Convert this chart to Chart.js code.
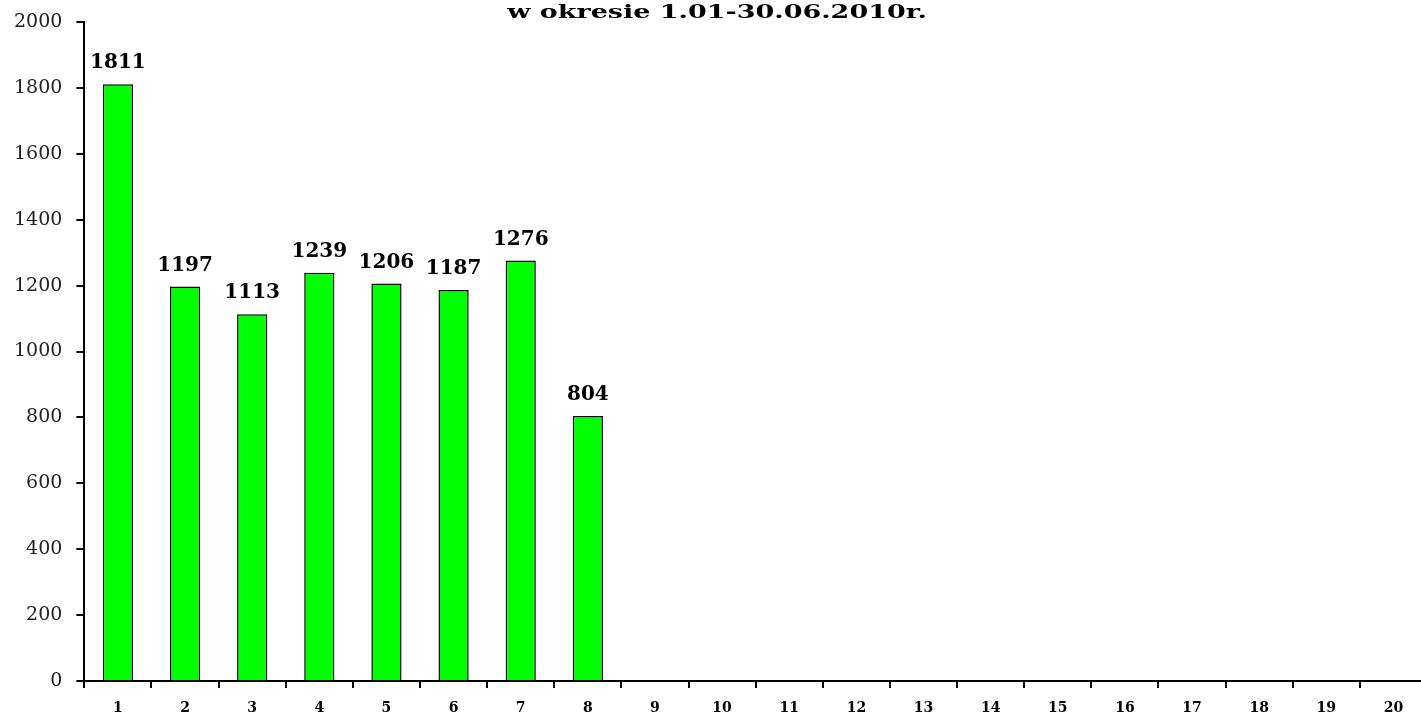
<!DOCTYPE html>
<html lang="pl">
<head>
	<meta charset="utf-8">
	<title>w okresie 1.01-30.06.2010r.</title>
	<script src="https://cdn.jsdelivr.net/npm/chart.js"></script>
	<style>
		html, body { margin: 0; padding: 0; background: #fff; overflow: hidden; }
	</style>
</head>
<body>
	<canvas id="chart" width="1428" height="716"></canvas>
	<script>
		// kolejne przedziały 1..20
		const categories = ['1','2','3','4','5','6','7','8','9','10','11','12','13','14','15','16','17','18','19','20'];
		// liczby z wykresu; puste kategorie bez słupka
		const values = [1811, 1197, 1113, 1239, 1206, 1187, 1276, 804, null, null, null, null, null, null, null, null, null, null, null, null];
		const yTicks = [0, 200, 400, 600, 800, 1000, 1200, 1400, 1600, 1800, 2000];
		const titleText = 'w okresie 1.01-30.06.2010r.';

		const serif = "'DejaVu Serif', 'Liberation Serif', serif";

		// tytuł u góry (szeroki krój jak w oryginale)
		const wideTitle = {
			id: 'wideTitle',
			afterDraw(chart) {
				const ctx = chart.ctx;
				ctx.save();
				ctx.font = 'bold 19px ' + serif;
				ctx.fillStyle = '#000';
				ctx.textAlign = 'center';
				ctx.textBaseline = 'alphabetic';
				ctx.translate(717, 18);
				ctx.scale(1.42, 1);
				ctx.fillText(titleText, 0, 0);
				ctx.restore();
			}
		};

		// wartości nad słupkami
		const valueLabels = {
			id: 'valueLabels',
			afterDatasetsDraw(chart) {
				const ctx = chart.ctx;
				const meta = chart.getDatasetMeta(0);
				ctx.save();
				ctx.font = 'bold 20px ' + serif;
				ctx.fillStyle = '#000';
				ctx.textAlign = 'center';
				ctx.textBaseline = 'alphabetic';
				meta.data.forEach((bar, i) => {
					const v = values[i];
					if (v === null) return;
					ctx.fillText(String(v), bar.x, bar.y - 16);
				});
				ctx.restore();
			}
		};

		new Chart(document.getElementById('chart'), {
			type: 'bar',
			data: {
				labels: categories,
				datasets: [{
					data: values,
					backgroundColor: '#00ff00',
					borderColor: '#000',
					borderWidth: 1.5,
					barPercentage: 0.45,
					categoryPercentage: 1
				}]
			},
			options: {
				responsive: false,
				animation: false,
				devicePixelRatio: 1,
				layout: { padding: { left: 0, right: 1, top: 22, bottom: -12 } },
				plugins: {
					legend: { display: false },
					tooltip: { enabled: false },
					title: { display: false }
				},
				scales: {
					x: {
						grid: { drawOnChartArea: false, color: '#000', lineWidth: 2, tickLength: 7, offset: true },
						border: { color: '#000', width: 2 },
						ticks: {
							color: '#000',
							padding: 13,
							font: { family: serif, size: 14, weight: 'bold', lineHeight: 1 },
							maxRotation: 0,
							autoSkip: false
						}
					},
					y: {
						min: 0,
						max: 2000,
						afterBuildTicks(scale) {
							scale.ticks = yTicks.map(v => ({ value: v }));
						},
						grid: { drawOnChartArea: false, color: '#000', lineWidth: 2, tickLength: 8 },
						border: { color: '#000', width: 2 },
						ticks: {
							color: '#222',
							padding: 14,
							font: { family: serif, size: 19, lineHeight: 0.8 },
							callback: v => String(v)
						}
					}
				}
			},
			plugins: [valueLabels, wideTitle]
		});
	</script>
</body>
</html>
